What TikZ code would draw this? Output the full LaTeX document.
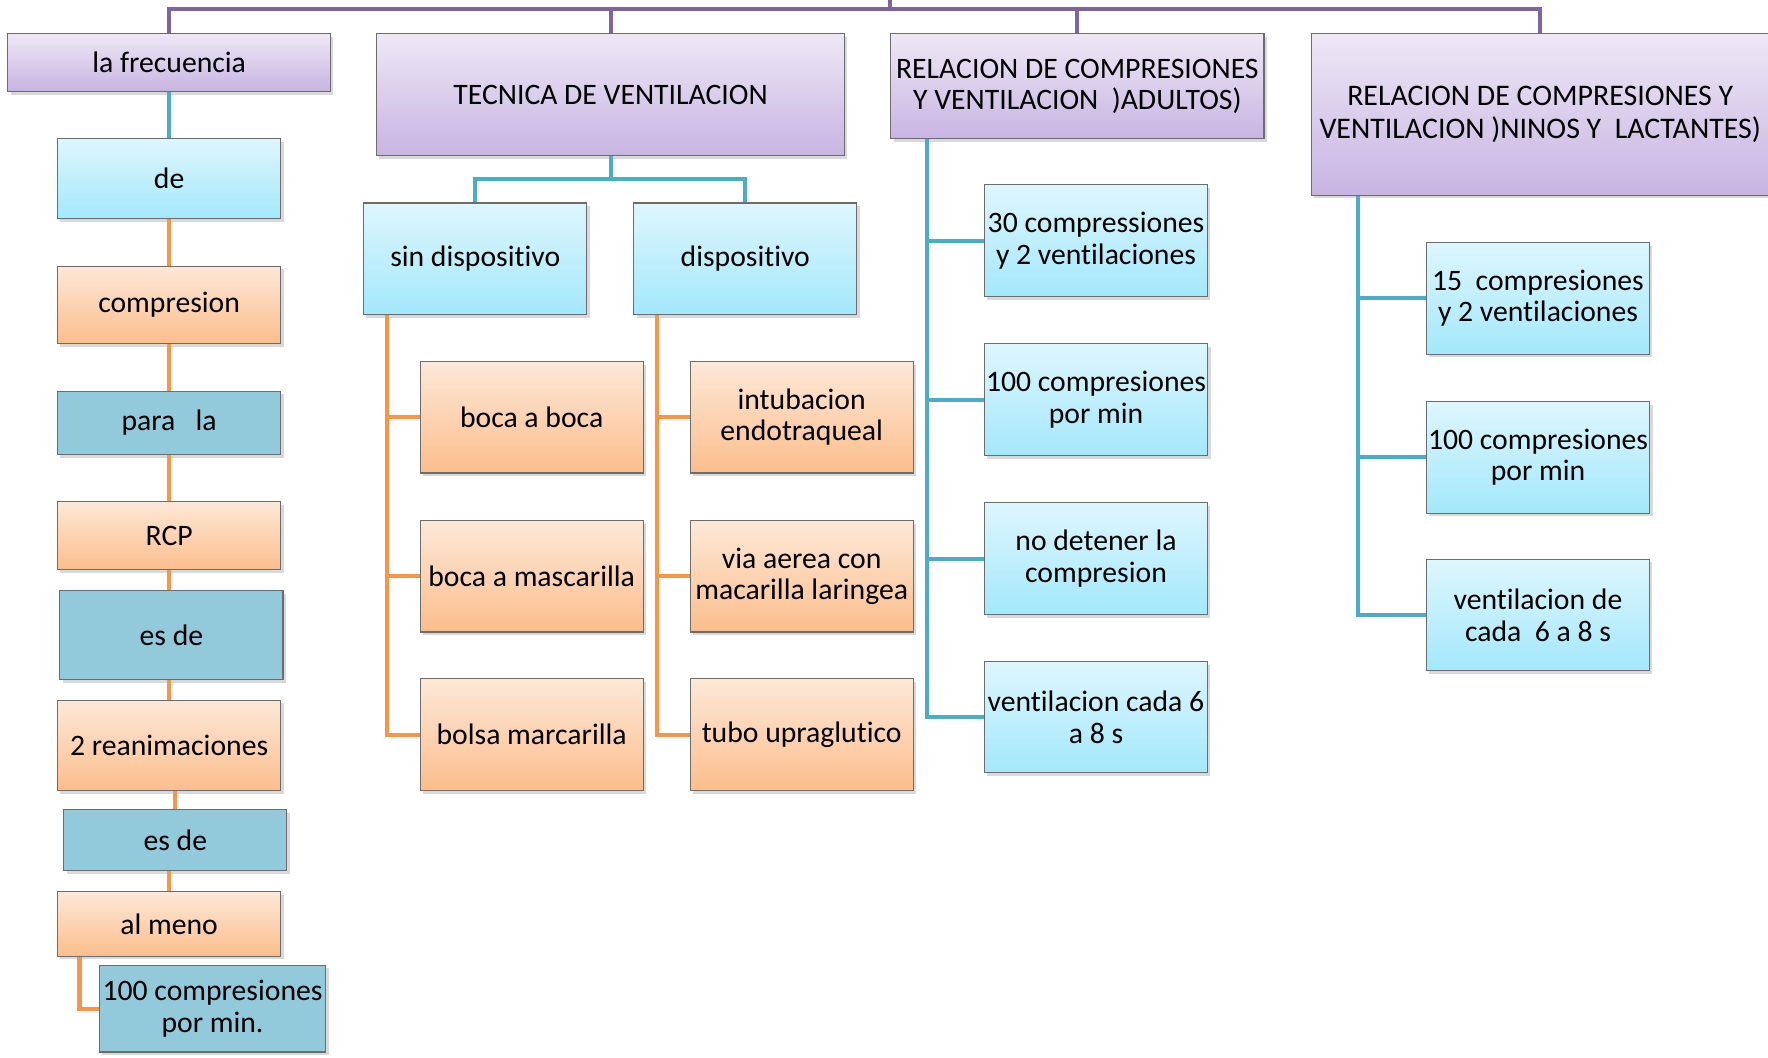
\documentclass[tikz,border=0pt]{standalone}
\usepackage{fontspec}
\setmainfont{Carlito}[Ligatures=NoCommon]
\usetikzlibrary{shadows}

\definecolor{lnpurple}{HTML}{8064A2}
\definecolor{lnblue}{HTML}{4BACC6}
\definecolor{lnorange}{HTML}{F79646}
\definecolor{purptop}{HTML}{EEE8F6}
\definecolor{purpbot}{HTML}{C8B4E2}
\definecolor{skytop}{HTML}{DEF6FD}
\definecolor{skybot}{HTML}{A3E8FB}
\definecolor{peachtop}{HTML}{FDE8D8}
\definecolor{peachbot}{HTML}{FBBE8C}
\definecolor{darksky}{HTML}{93CADB}

\tikzset{
    main/.style = {draw=gray!85!black, line width=0.6pt, inner sep=1pt, align=center,
                   drop shadow={shadow xshift=1.6pt, shadow yshift=-1.8pt, opacity=0.3}},
    cw/.style = {minimum width=4.465cm},
    std/.style = {minimum width=4.465cm, minimum height=2.232cm},
    head/.style = {main, top color=purptop, bottom color=purpbot},
    light/.style = {main, top color=skytop, bottom color=skybot},
    peach/.style = {main, top color=peachtop, bottom color=peachbot},
    dark/.style = {main, fill=darksky},
    pl/.style = {line width=2.3pt, lnpurple},
    bl/.style = {line width=2.3pt, lnblue},
    ol/.style = {line width=2.3pt, lnorange}
}

\begin{document}
\begin{tikzpicture}[x=0.02255cm, y=-0.02255cm, font=\fontsize{16.9}{18}\selectfont]
    \useasboundingbox (0,0) rectangle (1568,938);

    % left column
    \node[head, minimum width=6.45cm, minimum height=1.15cm] (frec) at (150, 55.5) {la frecuencia};
    \node[light, cw, minimum height=1.6cm] (de) at (150, 158.5) {de};
    \node[peach, cw, minimum height=1.556cm] (comp) at (150, 270.5) {compresion};
    \node[dark, cw, minimum height=1.263cm] (para) at (150, 375) {para \ \ la};
    \node[peach, cw, minimum height=1.353cm] (rcp) at (150, 475) {RCP};
    \node[dark, cw, minimum height=1.781cm] (esde1) at (152, 563.5) {es de};
    \node[peach, cw, minimum height=1.804cm] (reanim) at (150, 661) {2 reanimaciones};
    \node[dark, cw, minimum height=1.218cm] (esde2) at (155.5, 745) {es de};
    \node[peach, cw, minimum height=1.285cm] (meno) at (150, 819.5) {al meno};
    \node[dark, minimum width=4.533cm, minimum height=1.736cm] (cien) at (188.5, 894.5) {100 compresiones\\por min.};

    % middle column
    \node[head, minimum width=9.358cm, minimum height=2.435cm] (tec) at (541.5, 84) {TECNICA DE VENTILACION};
    \node[light, std] (sin) at (421.5, 229.5) {sin dispositivo};
    \node[light, std] (dis) at (661, 229.5) {dispositivo};

    \node[peach, std] (bab) at (471.5, 370) {boca a boca};
    \node[peach, std] (bam) at (471.5, 511) {boca a mascarilla};
    \node[peach, std] (bol) at (471.5, 651.5) {bolsa marcarilla};

    \node[peach, std] (intu) at (711, 370) {intubacion\\endotraqueal};
    \node[peach, std] (via) at (711, 511) {via aerea con\\macarilla laringea};
    \node[peach, std] (tubo) at (711, 651.5) {tubo upraglutico};

    % adults
    \node[head, minimum width=7.464cm, minimum height=2.097cm] (adu) at (955.5, 76.5) {RELACION DE COMPRESIONES\\Y VENTILACION \ )ADULTOS)};
    \node[light, std] (a30) at (972, 213.5) {30 compressiones\\y 2 ventilaciones};
    \node[light, std] (a100) at (972, 354.5) {100 compresiones\\por min};
    \node[light, std] (anod) at (972, 495.5) {no detener la\\compresion};
    \node[light, std] (aven) at (972, 636) {ventilacion cada 6\\a 8 s};

    % children
    \node[head, minimum width=9.155cm, minimum height=3.225cm, font=\fontsize{17}{18.5}\selectfont] (nin) at (1366, 101.5) {RELACION DE COMPRESIONES Y\\VENTILACION )NINOS Y \ LACTANTES)};
    \node[light, std] (n15) at (1364, 264.5) {15 \ compresiones\\y 2 ventilaciones};
    \node[light, std] (n100) at (1364, 405.5) {100 compresiones\\por min};
    \node[light, std] (nven) at (1364, 545.5) {ventilacion de\\cada \ 6 a 8 s};

    \coordinate (top) at (789, 0);
    \coordinate (bar) at (789, 8);
    \coordinate (tj) at (541.5, 159);

    % top bar
    \draw [pl] (frec.north) |- (bar) -| (nin.north);
    \draw [pl] (tec.north) -- (tec.north |- bar);
    \draw [pl] (adu.north) -- (adu.north |- bar);
    \draw [pl] (bar) -- (top);

    % left chain
    \draw [bl] (frec.south) -- (de.north);
    \draw [ol] (de.south) -- (comp.north);
    \draw [ol] (comp.south) -- (para.north);
    \draw [ol] (para.south) -- (rcp.north);
    \draw [ol] (rcp.south) -- (rcp.south |- esde1.north);
    \draw [ol] (esde1.south -| reanim.north) -- (reanim.north);
    \draw [ol] (reanim.south -| esde2.north) -- (esde2.north);
    \draw [ol] (esde2.south -| meno.north) -- (meno.north);
    \draw [ol] ([xshift=0.45cm]meno.south west) |- (cien.west);

    % tecnica
    \draw [bl] (tec.south) -- (tj);
    \draw [bl] (sin.north) |- (tj) -| (dis.north);

    \draw [ol] (bab.west) -| ([xshift=0.47cm]sin.south west);
    \draw [ol] (bam.west) -| ([xshift=0.47cm]sin.south west);
    \draw [ol] (bol.west) -| ([xshift=0.47cm]sin.south west);

    \draw [ol] (intu.west) -| ([xshift=0.47cm]dis.south west);
    \draw [ol] (via.west) -| ([xshift=0.47cm]dis.south west);
    \draw [ol] (tubo.west) -| ([xshift=0.47cm]dis.south west);

    % adultos
    \draw [bl] (a30.west) -| ([xshift=0.74cm]adu.south west);
    \draw [bl] (a100.west) -| ([xshift=0.74cm]adu.south west);
    \draw [bl] (anod.west) -| ([xshift=0.74cm]adu.south west);
    \draw [bl] (aven.west) -| ([xshift=0.74cm]adu.south west);

    % ninos
    \draw [bl] (n15.west) -| ([xshift=0.95cm]nin.south west);
    \draw [bl] (n100.west) -| ([xshift=0.95cm]nin.south west);
    \draw [bl] (nven.west) -| ([xshift=0.95cm]nin.south west);

\end{tikzpicture}
\end{document}
